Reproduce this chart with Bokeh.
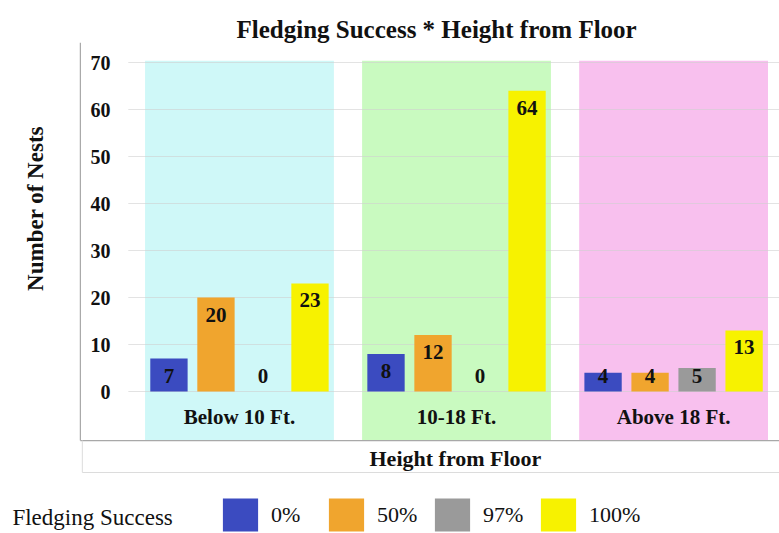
import math
from bokeh.plotting import figure
from bokeh.models import ColumnDataSource, Range1d, FixedTicker, Legend, LegendItem, Label
from bokeh.core.properties import value
from bokeh.embed import file_html
from bokeh.resources import INLINE

# ---- data ----
heights = ["Below 10 Ft.", "10-18 Ft.", "Above 18 Ft."]
success = ["0%", "50%", "97%", "100%"]
nests_0 = [7, 8, 4]
nests_50 = [20, 12, 4]
nests_97 = [0, 0, 5]
nests_100 = [23, 64, 13]
y_ticks = [0, 10, 20, 30, 40, 50, 60, 70]

series = [nests_0, nests_50, nests_97, nests_100]
bar_colors = ["#3B4BC0", "#F0A52E", "#9A9A9A", "#F7F200"]
band_colors = ["#CFF8F8", "#C9FAC0", "#F8C0EE"]

FONT = value("Liberation Serif")
INK = "#111111"

# layout constants (data units of the frame)
X0, X1 = -1.101, 2.488
Y0, Y1 = -30.21, 74.26
AX_X = -0.733      # where the value axis line sits
AX_Y = -10.43      # where the category axis line sits
BAND_TOP = 70.4

p = figure(width=779, height=533, output_backend="svg", toolbar_location=None,
           x_range=Range1d(X0, X1), y_range=Range1d(Y0, Y1),
           x_axis_location=None,
           min_border_left=0, min_border_right=0, min_border_top=42, min_border_bottom=0)

p.title.text = "Fledging Success  * Height from Floor"
p.title.align = "left"
p.title.text_font = "Liberation Serif"
p.title.text_font_size = "25px"
p.title.text_font_style = "bold"
p.title.text_color = INK
p.title.offset = 236
p.title.standoff = 0
p.outline_line_color = None
p.grid.visible = False

gx = list(range(len(heights)))

# background bands
band_src = ColumnDataSource(dict(x=gx, color=band_colors))
p.vbar(x="x", width=0.87, bottom=AX_Y, top=BAND_TOP, source=band_src,
       fill_color="color", line_color=None)

# grid lines from the tick list
p.segment(x0=-0.512, x1=X1, y0=y_ticks, y1=y_ticks, line_color="#CFCFCF", line_alpha=0.6, line_width=1)

# frame lines
p.segment(x0=[AX_X, AX_X], y0=[AX_Y, AX_Y], x1=[AX_X, X1], y1=[Y1, AX_Y],
          line_color="#A8A8A8", line_width=1.2)
p.segment(x0=[-0.724, -0.724], y0=[AX_Y, -17.23], x1=[-0.724, X1], y1=[-17.23, -17.23],
          line_color="#DCDCDC", line_width=1)

# bars
step = 0.2166
renderers = []
for j, (vals, col) in enumerate(zip(series, bar_colors)):
    xs = [g + (j - 1.5) * step for g in gx]
    src = ColumnDataSource(dict(x=xs, top=vals))
    r = p.vbar(x="x", top="top", bottom=0, width=0.172, source=src,
               fill_color=col, line_color=None)
    renderers.append(r)
    lab = ColumnDataSource(dict(x=xs, y=[max(v, 7) for v in vals], t=[str(v) for v in vals]))
    p.text(x="x", y="y", text="t", source=lab, text_align="center", text_baseline="top",
           y_offset=10, text_font=FONT, text_font_style="bold", text_font_size="21px",
           text_color=INK)

# category labels inside bands
cat_src = ColumnDataSource(dict(x=gx, t=heights))
p.text(x="x", y=-5.5, text="t", source=cat_src, text_align="center", text_baseline="middle",
       text_font=FONT, text_font_style="bold", text_font_size="21px", text_color=INK)

# value axis (tick labels drawn inside the frame, right of the axis line)
p.yaxis.ticker = FixedTicker(ticks=y_ticks)
p.yaxis.major_tick_line_color = None
p.yaxis.minor_tick_line_color = None
p.yaxis.major_tick_out = 0
p.yaxis.major_tick_in = 0
p.yaxis.axis_line_color = None
p.yaxis.major_label_standoff = -110
p.yaxis.major_label_text_font = "Liberation Serif"
p.yaxis.major_label_text_font_style = "bold"
p.yaxis.major_label_text_font_size = "20px"
p.yaxis.major_label_text_color = INK

# axis titles
p.add_layout(Label(x=0.995, y=-14.26, text="Height from Floor",
                   text_align="center", text_baseline="middle",
                   text_font="Liberation Serif", text_font_style="bold",
                   text_font_size="22px", text_color=INK))
p.add_layout(Label(x=-0.94, y=38.94, text="Number of Nests", angle=math.pi / 2,
                   text_align="center", text_baseline="middle",
                   text_font="Liberation Serif", text_font_style="bold",
                   text_font_size="23px", text_color=INK))

# legend
p.add_layout(Label(x=-1.046, y=-26.8, text="Fledging Success",
                   text_align="left", text_baseline="middle",
                   text_font="Liberation Serif", text_font_size="23px", text_color=INK))

legend = Legend(items=[LegendItem(label=s, renderers=[r]) for s, r in zip(success, renderers)],
                orientation="horizontal", location=(218, -2),
                glyph_width=44, glyph_height=41, label_width=46,
                label_standoff=9, spacing=7, padding=0, margin=0,
                border_line_color=None, background_fill_alpha=0,
                label_text_font="Liberation Serif", label_text_font_size="22px",
                label_text_color=INK)
p.add_layout(legend, "center")

open("out.html", "w").write(file_html(p, INLINE))
